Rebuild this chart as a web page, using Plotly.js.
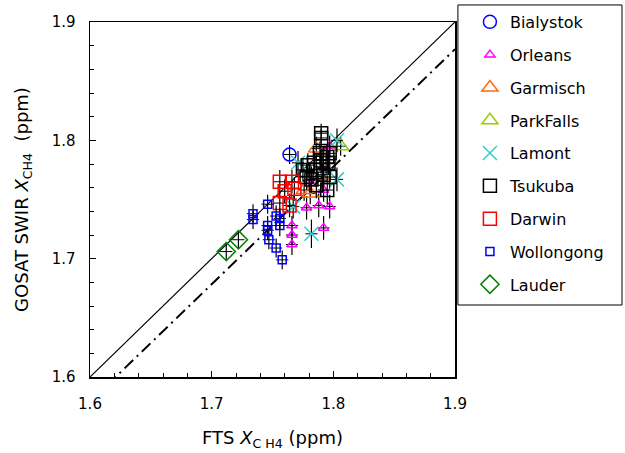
<!DOCTYPE html>
<html>
<head>
<meta charset="utf-8">
<script src="https://cdn.plot.ly/plotly-3.0.1.min.js"></script>
<style>html,body{margin:0;padding:0;background:#fff;}</style>
</head>
<body>
<div id="chart" style="width:625px;height:453px;"></div>
<script>
// ---- data ----
var bialystokX = [1.764];
var bialystokY = [1.788];
var bialystokEY = [0.008];

var orleansX = [1.778, 1.788, 1.797, 1.766, 1.766, 1.766, 1.792, 1.792, 1.780, 1.794, 1.797];
var orleansY = [1.743, 1.745, 1.744, 1.728, 1.720, 1.712, 1.726, 1.758, 1.766, 1.775, 1.795];
var orleansEY = [0.010, 0.010, 0.010, 0.008, 0.008, 0.009, 0.010, 0.010, 0.009, 0.010, 0.009];

var garmischX = [1.786, 1.776, 1.781, 1.790];
var garmischY = [1.793, 1.758, 1.755, 1.770];
var garmischEY = [0.010, 0.009, 0.009, 0.010];

var parkfallsX = [1.806];
var parkfallsY = [1.795];
var parkfallsEY = [0.008];

var lamontX = [1.803, 1.803, 1.767, 1.782, 1.771, 1.792];
var lamontY = [1.800, 1.767, 1.744, 1.721, 1.781, 1.773];
var lamontEY = [0.010, 0.010, 0.010, 0.012, 0.010, 0.010];

var tsukubaX = [1.790, 1.790, 1.779, 1.784, 1.786, 1.790, 1.795, 1.796, 1.797, 1.778, 1.782, 1.792, 1.797, 1.795, 1.786, 1.775, 1.789];
var tsukubaY = [1.806, 1.802, 1.779, 1.781, 1.775, 1.783, 1.786, 1.781, 1.789, 1.769, 1.767, 1.771, 1.769, 1.758, 1.762, 1.775, 1.789];
var tsukubaEY = [0.008, 0.008, 0.010, 0.010, 0.010, 0.010, 0.010, 0.010, 0.010, 0.011, 0.011, 0.010, 0.010, 0.012, 0.011, 0.010, 0.010];

var darwinX = [1.756, 1.766, 1.760, 1.756, 1.764, 1.768];
var darwinY = [1.765, 1.765, 1.757, 1.747, 1.745, 1.759];
var darwinEY = [0.010, 0.010, 0.010, 0.010, 0.010, 0.010];

var wollongongX = [1.746, 1.734, 1.734, 1.753, 1.756, 1.756, 1.746, 1.746, 1.747, 1.753, 1.758];
var wollongongY = [1.746, 1.738, 1.733, 1.736, 1.734, 1.728, 1.728, 1.724, 1.716, 1.709, 1.699];
var wollongongEY = [0.008, 0.008, 0.008, 0.009, 0.009, 0.009, 0.008, 0.008, 0.008, 0.008, 0.008];

var lauderX = [1.712, 1.722];
var lauderY = [1.706, 1.716];
var lauderEY = [0.007, 0.007];

// reference lines: one-to-one and regression (slope, intercept)
var lineSlopes = [1.0, 0.993];
var lineIntercepts = [0.0, -0.0097];
var lineDashes = ['solid', '12px,5px,2px,5px'];

var axisMin = 1.6, axisMax = 1.9;
var tickVals = [1.6, 1.7, 1.8, 1.9];
var tickText = ['1.6', '1.7', '1.8', '1.9'];

var sites = [
  {name: 'Bialystok', x: bialystokX, y: bialystokY, ey: bialystokEY, symbol: 'circle-open', color: '#0000ff', size: 13},
  {name: 'Orleans', x: orleansX, y: orleansY, ey: orleansEY, symbol: 'triangle-up-open', color: '#ff00ff', size: 9},
  {name: 'Garmisch', x: garmischX, y: garmischY, ey: garmischEY, symbol: 'triangle-up-open', color: '#ff6a10', size: 14},
  {name: 'ParkFalls', x: parkfallsX, y: parkfallsY, ey: parkfallsEY, symbol: 'triangle-up-open', color: '#99cc00', size: 14},
  {name: 'Lamont', x: lamontX, y: lamontY, ey: lamontEY, symbol: 'x-thin-open', color: '#33cccc', size: 14},
  {name: 'Tsukuba', x: tsukubaX, y: tsukubaY, ey: tsukubaEY, symbol: 'square-open', color: '#000000', size: 13},
  {name: 'Darwin', x: darwinX, y: darwinY, ey: darwinEY, symbol: 'square-open', color: '#ff0000', size: 13},
  {name: 'Wollongong', x: wollongongX, y: wollongongY, ey: wollongongEY, symbol: 'square-open', color: '#0000ff', size: 8},
  {name: 'Lauder', x: lauderX, y: lauderY, ey: lauderEY, symbol: 'diamond-open', color: '#008000', size: 14}
];

var traces = [];
// lines first (drawn under markers)
for (var i = 0; i < lineSlopes.length; i++) {
  var xs = [axisMin, axisMax];
  var ys = xs.map(function (v) { return lineSlopes[i] * v + lineIntercepts[i]; });
  traces.push({
    x: xs, y: ys, mode: 'lines', showlegend: false, hoverinfo: 'skip',
    line: {color: '#000000', width: i === 0 ? 1.2 : 2, dash: lineDashes[i]}
  });
}
sites.forEach(function (s) {
  traces.push({
    name: s.name, x: s.x, y: s.y, type: 'scatter', mode: 'markers',
    legendgroup: s.name,
    marker: {symbol: s.symbol, color: s.color, size: s.size, line: {color: s.color, width: 1.5}},
    error_y: {type: 'data', array: s.ey, visible: true, color: '#000000', thickness: 1.2, width: 0},
    error_x: {type: 'data', array: s.x.map(function () { return 0.005; }), visible: true, color: '#000000', thickness: 1, width: 0}
  });
});

var fontFam = 'DejaVu Sans, Verdana, sans-serif';
var layout = {
  width: 625, height: 453,
  margin: {l: 90, r: 170, t: 22, b: 76, autoexpand: false},
  paper_bgcolor: '#ffffff', plot_bgcolor: '#ffffff',
  font: {family: fontFam, size: 15, color: '#000000'},
  showlegend: true,
  legend: {
    x: 1.008, y: 1.048, xanchor: 'left', yanchor: 'top',
    bgcolor: 'rgba(0,0,0,0)', borderwidth: 0,
    font: {family: fontFam, size: 16, color: '#000000'},
    tracegroupgap: 9, itemsizing: 'trace',
    maxheight: 420, indentation: 12
  },
  // legend frame (layout box around the legend area)
  shapes: [{
    type: 'rect', xref: 'paper', yref: 'paper',
    x0: 1.008, x1: 1.4575, y0: 1.048, y1: 0.2028,
    line: {color: '#000000', width: 1}, fillcolor: 'rgba(0,0,0,0)', layer: 'below'
  }],
  xaxis: {
    range: [axisMin, axisMax], tickvals: tickVals, ticktext: tickText,
    showline: true, mirror: true, linecolor: '#000000', linewidth: 1.5,
    ticks: 'inside', ticklen: 6, tickcolor: '#000000', tickwidth: 1,
    ticklabelstandoff: 12,
    minor: {dtick: 0.02, ticks: 'inside', ticklen: 4, tickcolor: '#000000', showgrid: false},
    showgrid: false, zeroline: false,
    title: {text: 'FTS <i>X</i><sub>C H4</sub> (ppm)', font: {family: fontFam, size: 18}, standoff: 20}
  },
  yaxis: {
    range: [axisMin, axisMax], tickvals: tickVals, ticktext: tickText,
    showline: true, mirror: true, linecolor: '#000000', linewidth: 1.5,
    ticks: 'inside', ticklen: 6, tickcolor: '#000000', tickwidth: 1,
    ticklabelstandoff: 10,
    minor: {dtick: 0.02, ticks: 'inside', ticklen: 4, tickcolor: '#000000', showgrid: false},
    showgrid: false, zeroline: false,
    title: {text: 'GOSAT SWIR <i>X</i><sub>CH4</sub>  (ppm)', font: {family: fontFam, size: 18}, standoff: 18}
  }
};

Plotly.newPlot('chart', traces, layout, {displayModeBar: false, staticPlot: true});
</script>
</body>
</html>
